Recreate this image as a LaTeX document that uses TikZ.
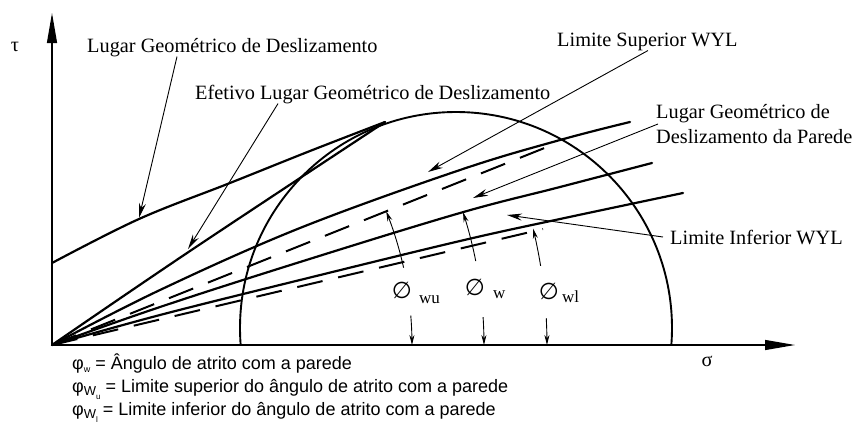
\documentclass[tikz,border=0pt]{standalone}
\usepackage{fontspec}
\setmainfont{Liberation Serif}
\setsansfont{Liberation Sans}
\newfontfamily\symfont{DejaVu Sans}
\usetikzlibrary{arrows.meta}
\begin{document}
\begin{tikzpicture}[x=1pt,y=-1pt,
  curve/.style={line width=2.2pt, line cap=round},
  dashcurve/.style={line width=2pt, dash pattern=on 26pt off 16pt},
  leader/.style={line width=0.9pt, -{Stealth[length=15pt,width=7pt]}},
  arcleader/.style={line width=0.9pt, -{Stealth[length=10pt,width=5pt]}},
  axis/.style={line width=1.2pt, -{Triangle[length=30pt,width=10pt]}},
  lbl/.style={font=\fontsize{20.3}{25.5}\selectfont, inner sep=0pt},
  leg/.style={font=\sffamily\fontsize{18}{22}\selectfont, inner sep=0pt, anchor=base west},
  phisym/.style={font=\symfont\fontsize{23}{23}\selectfont, inner sep=0pt},
  phisub/.style={font=\fontsize{17}{17}\selectfont, inner sep=0pt, anchor=base west},
]
\useasboundingbox (0,0) rectangle (855,426);

% axes
\coordinate (O) at (52,345);
\coordinate (ytip) at (52,13);
\coordinate (xtip) at (795,345);
\draw[axis] (O) -- (ytip);
\draw[axis] (O) -- (xtip);
\node[lbl] (tau) at (15,47) {τ};
\node[lbl] (sig) at (707,361) {σ};

% Mohr circle
\begin{scope}
  \clip (0,0) rectangle (855,345);
  \draw[line width=1.9pt] (456,328) circle[radius=216pt];
\end{scope}

% yield locus
\draw[curve] plot[smooth, tension=0.6] coordinates {(52,263) (139,219) (230,183) (310,151) (385,122)};
% effective yield locus
\draw[curve] plot[smooth, tension=0.6] coordinates {(52,345) (190,251) (385,122)};
% upper WYL limit
\draw[curve] plot[smooth, tension=0.6] coordinates {(52,345) (160,290) (300,228) (460,170) (560,140) (630,122)};
% wall yield locus
\draw[curve] plot[smooth, tension=0.6] coordinates {(52,345) (160,307) (300,262) (460,213) (560,187) (652,163)};
% lower WYL limit
\draw[curve] plot[smooth, tension=0.6] coordinates {(52,345) (160,315) (300,280) (460,241) (560,219) (683,193)};
% dashed lines
\coordinate (bend) at (552,145);
\coordinate (dend) at (543,229);
\draw[dashcurve] (O) -- (bend);
\draw[dashcurve] (O) -- (dend);

% labels
\node[lbl, anchor=base west] (yl) at (87,52) {Lugar Geométrico de Deslizamento};
\node[lbl, anchor=base west] (eyl) at (195,99) {Efetivo Lugar Geométrico de Deslizamento};
\node[lbl, anchor=base west] (ls) at (557,46) {Limite Superior WYL};
\node[lbl, anchor=west, align=left] (wyl) at (656,124) {Lugar Geométrico de\\Deslizamento da Parede};
\node[lbl, anchor=base west] (li) at (670,244) {Limite Inferior WYL};

% leader tips
\coordinate (tYL) at (139,218);
\coordinate (tEYL) at (188,249);
\coordinate (tLS) at (428,172);
\coordinate (tWYL) at (473,198);
\coordinate (tLI) at (507,215);
\draw[leader] ([xshift=90pt]yl.south west) -- (tYL);
\draw[leader] ([xshift=83pt]eyl.south west) -- (tEYL);
\draw[leader] ([xshift=91pt]ls.south west) -- (tLS);
\draw[leader] ([xshift=2pt]wyl.west) -- (tWYL);
\draw[leader] ([xshift=-7pt]li.west) -- (tLI);

% angle symbols
\node[phisym] (pwu) at (402,290) {∅};
\node[phisub] (swu) at (419,303) {wu};
\node[phisym] (pw) at (475,287) {∅};
\node[phisub] (sw) at (493,298) {w};
\node[phisym] (pwl) at (549,291) {∅};
\node[phisub] (swl) at (562,302) {wl};

% angle arcs
\draw[arcleader] plot[domain=12.4:21.8, samples=20] ({52+360*cos(\x)},{345-360*sin(\x)});
\draw[arcleader] plot[domain=4.7:0, samples=10] ({52+360*cos(\x)},{345-360*sin(\x)});
\draw[arcleader] plot[domain=11.2:17.9, samples=20] ({52+432*cos(\x)},{345-432*sin(\x)});
\draw[arcleader] plot[domain=3.7:0, samples=10] ({52+432*cos(\x)},{345-432*sin(\x)});
\draw[arcleader] plot[domain=9.2:13.6, samples=20] ({52+495*cos(\x)},{345-495*sin(\x)});
\draw[arcleader] plot[domain=3.1:0, samples=10] ({52+495*cos(\x)},{345-495*sin(\x)});

% legend
\node[leg] (l1) at (72,369) {φ\raisebox{-0.4ex}{\fontsize{9}{9}\selectfont w} = Ângulo de atrito com a parede};
\node[leg] (l2) at (72,392) {φ\raisebox{-0.4ex}{\fontsize{13}{13}\selectfont W\raisebox{-0.6ex}{\fontsize{8}{8}\selectfont u}} = Limite superior do ângulo de atrito com a parede};
\node[leg] (l3) at (72,415) {φ\raisebox{-0.4ex}{\fontsize{13}{13}\selectfont W\raisebox{-0.6ex}{\fontsize{8}{8}\selectfont l}} = Limite inferior do ângulo de atrito com a parede};
\end{tikzpicture}
\end{document}
